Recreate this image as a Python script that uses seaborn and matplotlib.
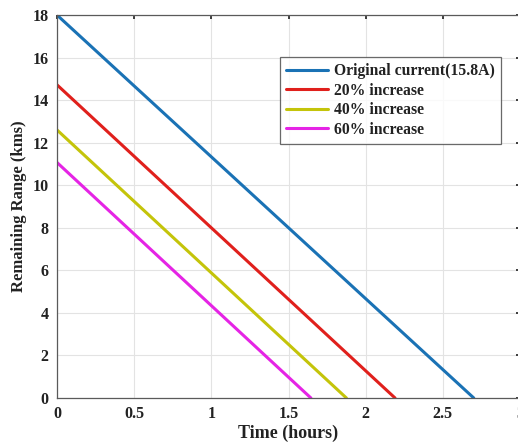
import matplotlib
matplotlib.use("Agg")
import matplotlib.pyplot as plt
import seaborn as sns
import pandas as pd

series_names = ["Original current(15.8A)", "20% increase", "40% increase", "60% increase"]
time_start = [0.0, 0.0, 0.0, 0.0]
time_end = [2.70, 2.19, 1.875, 1.645]
range_start = [18.0, 14.72, 12.6, 11.07]
range_end = [0.0, 0.0, 0.0, 0.0]
colors = ["#1a72b5", "#e0201c", "#c4c40a", "#e524e5"]
x_ticks = [0, 0.5, 1, 1.5, 2, 2.5, 3]
y_ticks = [0, 2, 4, 6, 8, 10, 12, 14, 16, 18]

rows = []
for n, t0, t1, r0, r1 in zip(series_names, time_start, time_end, range_start, range_end):
    rows.append({"series": n, "t": t0, "r": r0})
    rows.append({"series": n, "t": t1, "r": r1})
df = pd.DataFrame(rows)

sns.set_theme(style="white")
plt.rcParams["font.family"] = ["Liberation Serif", "DejaVu Serif"]
plt.rcParams["font.weight"] = "bold"

fig = plt.figure(figsize=(5.18, 4.43), dpi=100)
ax = fig.add_axes([0.110, 0.1016, 0.894, 0.8645])

sns.lineplot(data=df, x="t", y="r", hue="series", hue_order=series_names,
             palette=colors, linewidth=2.2, ax=ax, estimator=None, sort=False)

ax.set_xlim(0, 3)
ax.set_ylim(0, 18)
ax.set_xticks(x_ticks)
ax.set_xticklabels([f"{v:g}" for v in x_ticks])
ax.set_yticks(y_ticks)
ax.grid(True, color="#e3e3e3", linewidth=0.8)
ax.tick_params(direction="in", length=3, top=True, right=True,
               labelsize=11.5, colors="#262626", pad=6)
for lab in ax.get_xticklabels() + ax.get_yticklabels():
    lab.set_fontweight("bold")
    lab.set_color("#222222")
for s in ax.spines.values():
    s.set_color("#5a5a5a")
    s.set_linewidth(0.9)

ax.set_xlabel("Time (hours)", fontsize=13, fontweight="bold", color="#222222", labelpad=2)
ax.set_ylabel("Remaining Range (kms)", fontsize=12, fontweight="bold", color="#222222", labelpad=4)

leg = ax.legend(loc="upper left", bbox_to_anchor=(0.4816, 0.890), borderaxespad=0,
                frameon=True, fancybox=False, handlelength=2.65, handletextpad=0.4,
                borderpad=0.4, labelspacing=0.22, fontsize=11.3)
leg.get_frame().set_edgecolor("#444444")
leg.get_frame().set_linewidth(0.9)
for t in leg.get_texts():
    t.set_fontweight("bold")
    t.set_color("#222222")
for h in leg.get_lines():
    h.set_linewidth(2.2)

fig.savefig("out.png", dpi=100)
